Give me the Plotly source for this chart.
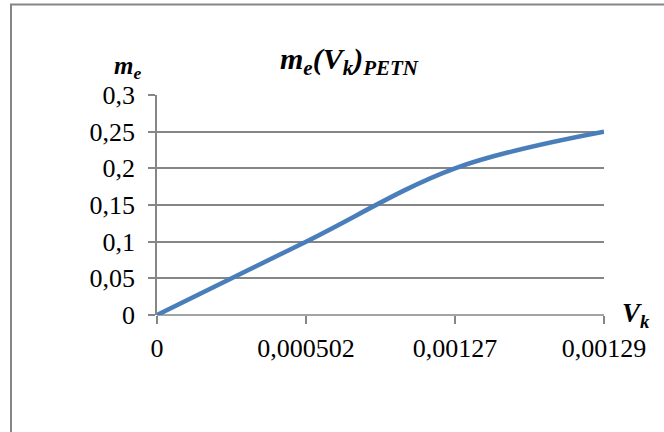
import plotly.graph_objects as go

categories = ["0", "0,000502", "0,00127", "0,00129"]
me_values = [0, 0.1, 0.2, 0.25]
y_tick_vals = [0, 0.05, 0.1, 0.15, 0.2, 0.25, 0.3]
y_tick_text = ["0", "0,05", "0,1", "0,15", "0,2", "0,25", "0,3"]

FONT = "Liberation Serif, Times New Roman, serif"
GRAY = "#868686"
x_idx = list(range(len(categories)))

fig = go.Figure()
fig.add_trace(go.Scatter(
    x=x_idx, y=me_values, mode="lines",
    line=dict(color="#4a7ebb", width=4.5, shape="spline", smoothing=1),
    hoverinfo="skip", showlegend=False,
))

fig.update_layout(
    width=664, height=432,
    margin=dict(l=157, r=60, t=95, b=117),
    paper_bgcolor="white", plot_bgcolor="white",
    font=dict(family=FONT, size=26, color="black"),
    xaxis=dict(
        range=[0, 3], tickvals=x_idx, ticktext=categories,
        showgrid=False, zeroline=False, showline=False,
        ticks="outside", ticklen=8, tickcolor=GRAY, tickwidth=1.5,
        tickfont=dict(family=FONT, size=26), ticklabelstandoff=2,
    ),
    yaxis=dict(
        range=[0, 0.3], tickvals=y_tick_vals, ticktext=y_tick_text,
        showgrid=True, gridcolor=GRAY, gridwidth=1.5,
        zeroline=False, showline=True, linecolor=GRAY, linewidth=1.5,
        ticks="outside", ticklen=7, tickcolor=GRAY, tickwidth=1.5,
        tickfont=dict(family=FONT, size=26), ticklabelstandoff=8,
    ),
    shapes=[
        dict(type="line", xref="paper", yref="paper", x0=0, x1=1, y0=0, y1=0,
             line=dict(color=GRAY, width=1.5), layer="below"),
        dict(type="rect", xref="paper", yref="paper",
             x0=-0.3266, x1=1.2, y0=-0.6, y1=1.411,
             line=dict(color=GRAY, width=2), fillcolor="rgba(0,0,0,0)"),
    ],
    annotations=[
        dict(text="<b><i>m<sub>e</sub>(V<sub>k</sub>)<sub>PETN</sub></i></b>",
             xref="paper", yref="paper", x=0.43, y=1.155,
             xanchor="center", yanchor="middle", showarrow=False,
             font=dict(family=FONT, size=30)),
        dict(text="<b><i>m<sub>e</sub></i></b>",
             xref="paper", yref="paper", x=-0.065, y=1.123,
             xanchor="center", yanchor="middle", showarrow=False,
             font=dict(family=FONT, size=25)),
        dict(text="<b><i>V<sub>k</sub></i></b>",
             xref="paper", yref="paper", x=1.072, y=0.0,
             xanchor="center", yanchor="middle", showarrow=False,
             font=dict(family=FONT, size=27)),
    ],
)

fig.write_html(
    "out.html",
    config={"displayModeBar": False},
    post_script="document.body.style.margin='0';document.body.style.overflow='hidden';",
)
